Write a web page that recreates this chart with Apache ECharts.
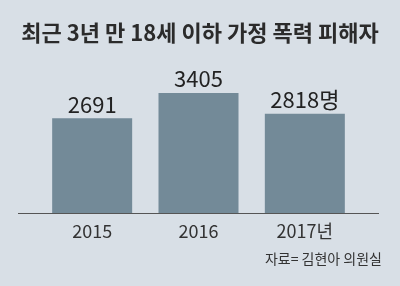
<!DOCTYPE html>
<html><head><meta charset="utf-8">
<script src="https://cdn.jsdelivr.net/npm/echarts@6/dist/echarts.min.js"></script>
<style>html,body{margin:0;padding:0;background:#d8dfe6;}#c{width:400px;height:286px;}</style>
</head><body><div id="c"></div>
<script>
const titleText = '최근 3년 만 18세 이하 가정 폭력 피해자';
const sourceText = '자료= 김현아 의원실';
const categories = ['2015', '2016', '2017년'];
const values = [2691, 3405, 2818];
const valueLabels = ['2691', '3405', '2818명'];

const chart = echarts.init(document.getElementById('c'), null, {renderer: 'canvas'});
const font = '"Noto Sans CJK KR", "Liberation Sans", sans-serif';
chart.setOption({
  backgroundColor: '#d8dfe6',
  animation: false,
  title: {
    text: titleText, left: 'center', top: 17,
    textStyle: {fontFamily: font, fontSize: 22, fontWeight: 'bold', color: '#2b2b2b'}
  },
  grid: {left: 39, right: 42, top: 72, bottom: 73},
  xAxis: {
    type: 'category', data: categories,
    axisLine: {show: false}, axisTick: {show: false},
    axisLabel: {fontFamily: font, fontSize: 18, color: '#333', margin: 9}
  },
  yAxis: {type: 'value', min: 0, max: 4000, show: false, splitLine: {show: false}},
  series: [{
    type: 'bar', data: values, barWidth: 80,
    itemStyle: {color: '#738a98'},
    label: {
      show: true, position: 'top', distance: 3,
      fontFamily: font, fontSize: 22, color: '#222',
      formatter: p => valueLabels[p.dataIndex]
    }
  }],
  graphic: [
    {type: 'line', shape: {x1: 18, y1: 213.5, x2: 379, y2: 213.5}, style: {stroke: '#555', lineWidth: 1}, z: 10},
    {type: 'text', right: 18, top: 252, style: {text: sourceText, font: '14px ' + font, fill: '#333'}}
  ]
});
</script></body></html>
